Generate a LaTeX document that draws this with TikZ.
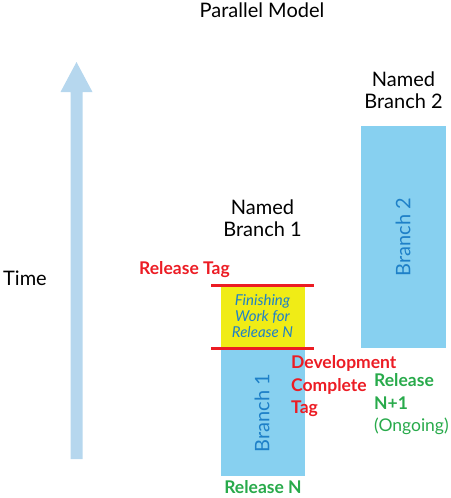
\documentclass[tikz,border=0pt]{standalone}
\usepackage{fontspec}
\setmainfont{Lato}
\begin{document}
\begin{tikzpicture}[x=1pt,y=-1pt]

    % Farben
    \definecolor{arrowblue}{RGB}{182,215,238}
    \definecolor{branchblue}{RGB}{135,208,240}
    \definecolor{labelblue}{RGB}{30,128,200}
    \definecolor{workyellow}{RGB}{240,236,22}
    \definecolor{tagred}{RGB}{236,28,36}
    \definecolor{releasegreen}{RGB}{40,170,75}

    % Maße
    \def\W{450}
    \def\H{498}

    \useasboundingbox (0,0) rectangle (\W,\H);

    % Zeitpfeil
    \fill[arrowblue] (76.5,62) -- (92.5,92) -- (82.5,92) -- (82.5,459)
        -- (70.5,459) -- (70.5,92) -- (60.5,92) -- cycle;

    % Branches
    \fill[branchblue] (220.5,348) rectangle (305,475.5);
    \fill[branchblue] (361,126) rectangle (445.5,348);
    \fill[workyellow] (220.5,286) rectangle (305,348);

    % Tags
    \draw[tagred, line width=3pt] (211,285.5) -- (314,285.5);
    \draw[tagred, line width=3pt] (211,348) -- (314,348);

    % Titel
    \node[anchor=base, font=\fontsize{20}{22}\selectfont] (title) at (262,17.5)
        {Parallel Model};

    % Überschriften (Anker = Grundlinie der letzten Zeile)
    \node[anchor=base, align=center, font=\fontsize{20}{22}\selectfont] (named2) at (403.5,108)
        {Named\\Branch 2};
    \node[anchor=base, align=center, font=\fontsize{20}{22}\selectfont] (named1) at (262.5,236.5)
        {Named\\Branch 1};
    \node[anchor=base west, inner sep=0pt, font=\fontsize{20}{22}\selectfont] (time) at (3,285)
        {Time};

    % Beschriftung der Branches
    \node[rotate=90, text=labelblue, font=\fontsize{20}{22}\selectfont] (branch1lbl) at (262,413)
        {Branch 1};
    \node[rotate=90, text=labelblue, font=\fontsize{20}{22}\selectfont] (branch2lbl) at (403,237)
        {Branch 2};
    \node[anchor=base, align=center, text=labelblue, font=\itshape\fontsize{15}{16}\selectfont]
        (finish) at (262.5,337) {Finishing\\Work for\\Release N};

    % Rote Tags
    \node[anchor=base west, inner sep=0pt, text=tagred, font=\bfseries\fontsize{17.5}{22.5}\selectfont]
        (reltag) at (139,274) {Release Tag};
    \node[anchor=base west, inner sep=0pt, align=left, text=tagred, font=\bfseries\fontsize{17.5}{22.5}\selectfont]
        (devtag) at (291,413.5) {Development\\Complete\\Tag};

    % Grüne Releases
    \node[anchor=base west, inner sep=0pt, align=left, text=releasegreen, font=\fontsize{17.5}{22.5}\selectfont]
        (relnext) at (374,431.5) {\textbf{Release}\\\textbf{N+1}\\(Ongoing)};
    \node[anchor=base, inner sep=0pt, text=releasegreen, font=\bfseries\fontsize{17.5}{22}\selectfont]
        (reln) at (263,493) {Release N};

\end{tikzpicture}
\end{document}
